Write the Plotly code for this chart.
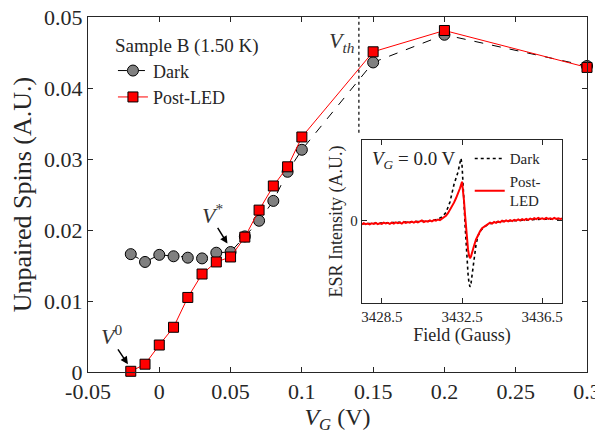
import plotly.graph_objects as go

# ---- main data ----
vg = [-0.02, -0.01, 0.0, 0.01, 0.02, 0.03, 0.04, 0.05, 0.06, 0.07, 0.08, 0.09, 0.10, 0.15, 0.20, 0.30]
dark = [0.0166, 0.0155, 0.0165, 0.0163, 0.0161, 0.0160, 0.0168, 0.0169, 0.0191, 0.0213, 0.0241, 0.0282, 0.0313, 0.0436, 0.0475, 0.0431]
post_led = [0.0001, 0.0011, 0.0038, 0.0063, 0.0105, 0.0138, 0.0155, 0.0162, 0.0190, 0.0228, 0.0262, 0.0289, 0.0331, 0.0451, 0.0481, 0.0429]
V_TH = 0.14

x_tickvals = [-0.05, 0, 0.05, 0.1, 0.15, 0.2, 0.25, 0.3]
x_ticktext = ["-0.05", "0", "0.05", "0.1", "0.15", "0.2", "0.25", "0.3"]
y_tickvals = [0, 0.01, 0.02, 0.03, 0.04, 0.05]
y_ticktext = ["0", "0.01", "0.02", "0.03", "0.04", "0.05"]

# ---- inset ESR spectra (V_G = 0.0 V) ----
field_led = [3427.5, 3427.6, 3427.7, 3427.8, 3427.9, 3428.0, 3428.1, 3428.2, 3428.3, 3428.4,
             3428.5, 3428.6, 3428.7, 3428.8, 3428.9, 3429.0, 3429.1, 3429.2, 3429.3, 3429.4,
             3429.5, 3429.6, 3429.7, 3429.8, 3429.9, 3430.0, 3430.1, 3430.2, 3430.3, 3430.4,
             3430.5, 3430.6, 3430.7, 3430.8, 3430.9, 3431.0, 3431.1, 3431.2, 3431.3, 3431.4,
             3431.5, 3431.6, 3431.7, 3431.8, 3431.9, 3432.0, 3432.1, 3432.2, 3432.3, 3432.4,
             3432.5, 3432.55, 3432.6, 3432.65, 3432.7, 3432.75, 3432.8, 3432.85, 3432.9, 3432.95,
             3433.0, 3433.1, 3433.2, 3433.3, 3433.4, 3433.5, 3433.6, 3433.7, 3433.8, 3433.9,
             3434.0, 3434.1, 3434.2, 3434.3, 3434.4, 3434.5, 3434.6, 3434.7, 3434.8, 3434.9,
             3435.0, 3435.1, 3435.2, 3435.3, 3435.4, 3435.5, 3435.6, 3435.7, 3435.8, 3435.9,
             3436.0, 3436.1, 3436.2, 3436.3, 3436.4, 3436.5, 3436.6, 3436.7, 3436.8, 3436.9,
             3437.0, 3437.1, 3437.2, 3437.3, 3437.4, 3437.5]
esr_led = [-0.06, -0.04, -0.055, -0.045, -0.06, -0.04, -0.05, -0.035, -0.055, -0.04,
           -0.05, -0.03, -0.045, -0.035, -0.05, -0.03, -0.045, -0.025, -0.04, -0.03,
           -0.045, -0.02, -0.035, -0.02, -0.03, -0.015, -0.03, -0.01, -0.025, -0.015,
           0.005, -0.02, -0.005, -0.015, 0.005, -0.01, 0.01, 0.0, 0.02, 0.01,
           0.03, 0.05, 0.08, 0.12, 0.17, 0.23, 0.29, 0.36, 0.43, 0.52,
           0.625, 0.50, 0.32, 0.10, -0.12, -0.32, -0.46, -0.56, -0.60, -0.57,
           -0.50, -0.40, -0.30, -0.22, -0.17, -0.12, -0.10, -0.07, -0.06, -0.03,
           -0.045, -0.02, -0.035, -0.01, -0.025, 0.0, -0.015, 0.005, -0.01, 0.01,
           -0.005, 0.015, 0.0, 0.02, 0.005, 0.025, 0.01, 0.03, 0.015, 0.035,
           0.02, 0.04, 0.025, 0.045, 0.03, 0.04, 0.025, 0.045, 0.03, 0.04,
           0.025, 0.045, 0.03, 0.04, 0.03, 0.035]
field_dark = [3427.5, 3428.0, 3428.5, 3429.0, 3429.5, 3430.0, 3430.5, 3431.0, 3431.25, 3431.5,
              3431.7, 3431.9, 3432.0, 3432.1, 3432.2, 3432.3, 3432.4, 3432.45, 3432.5, 3432.55,
              3432.6, 3432.65, 3432.7, 3432.75, 3432.8, 3432.85, 3432.9, 3432.95, 3433.0, 3433.1,
              3433.2, 3433.3, 3433.45, 3433.6, 3433.8, 3434.1, 3434.5, 3435.0, 3435.5, 3436.0,
              3436.5, 3437.0, 3437.5]
esr_dark = [-0.05, -0.045, -0.04, -0.035, -0.03, -0.02, -0.01, 0.0, 0.02, 0.06,
            0.13, 0.30, 0.45, 0.58, 0.68, 0.78, 0.93, 1.0, 0.90, 0.65,
            0.30, -0.05, -0.35, -0.62, -0.85, -1.0, -1.06, -1.0, -0.87, -0.60,
            -0.38, -0.24, -0.15, -0.10, -0.06, -0.03, -0.01, 0.0, 0.01, 0.02,
            0.025, 0.025, 0.03]
inset_xticks = [3428.5, 3432.5, 3436.5]
inset_xticktext = ["3428.5", "3432.5", "3436.5"]

FONT = "Liberation Serif"
AX = "#262626"

fig = go.Figure()
fig.add_trace(go.Scatter(x=vg, y=dark, name="Dark", mode="lines+markers",
                         line=dict(color="black", width=1, dash="dash"),
                         marker=dict(symbol="circle", size=11, color="#808080",
                                     line=dict(color="black", width=1)),
                         cliponaxis=False, legend="legend"))
fig.add_trace(go.Scatter(x=vg, y=post_led, name="Post-LED", mode="lines+markers",
                         line=dict(color="red", width=1),
                         marker=dict(symbol="square", size=10, color="red",
                                     line=dict(color="black", width=1)),
                         cliponaxis=False, legend="legend"))

fig.add_trace(go.Scatter(x=field_dark, y=esr_dark, name="Dark", mode="lines",
                         line=dict(color="black", width=1.6, dash="dot"),
                         xaxis="x2", yaxis="y2", legend="legend2"))
fig.add_trace(go.Scatter(x=field_led, y=esr_led, name="Post-<br>LED", mode="lines",
                         line=dict(color="red", width=2),
                         xaxis="x2", yaxis="y2", legend="legend2"))

fig.add_shape(type="line", x0=V_TH, x1=V_TH, y0=0.0337, y1=0.05, xref="x", yref="y",
              line=dict(color="black", width=1.2, dash="dot"))

ann_font = dict(family=FONT, size=22, color="#333333")
fig.add_annotation(x=0.128, y=0.0465, text="<i>V</i><sub><i>th</i></sub>", showarrow=False,
                   font=ann_font, xref="x", yref="y")
fig.add_annotation(x=0.037, y=0.0223, text="<i>V</i><sup>*</sup>", showarrow=False,
                   font=ann_font, xref="x", yref="y")
fig.add_annotation(x=-0.0332, y=0.0052, text="<i>V</i><sup>0</sup>", showarrow=False,
                   font=ann_font, xref="x", yref="y")
fig.add_annotation(x=0.0478, y=0.0181, ax=0.0403, ay=0.0205, xref="x", yref="y",
                   axref="x", ayref="y", text="", showarrow=True, arrowhead=2,
                   arrowsize=1, arrowwidth=1.5, arrowcolor="black")
fig.add_annotation(x=-0.022, y=0.0011, ax=-0.0297, ay=0.0034, xref="x", yref="y",
                   axref="x", ayref="y", text="", showarrow=True, arrowhead=2,
                   arrowsize=1, arrowwidth=1.5, arrowcolor="black")
fig.add_annotation(x=3427.9, y=0.98, text="<i>V</i><sub><i>G</i></sub> = 0.0 V", showarrow=False,
                   xanchor="left", font=dict(family=FONT, size=19, color="#222222"),
                   xref="x2", yref="y2")

axis_common = dict(showline=True, linecolor=AX, linewidth=1, mirror="ticks", ticks="inside",
                   ticklen=5, tickcolor=AX, showgrid=False, zeroline=False, automargin=False,
                   ticklabeloverflow="allow")

# the page adds an 8px body margin, so the figure is sized to fit the window with it
fig.update_layout(
    width=595, height=429,
    margin=dict(l=80, r=16, t=9, b=65),
    paper_bgcolor="white", plot_bgcolor="white",
    font=dict(family=FONT, color="#262626"),
    xaxis=dict(range=[-0.05, 0.3], tickvals=x_tickvals, ticktext=x_ticktext,
               tickfont=dict(size=22), title=dict(text="<i>V</i><sub><i>G</i></sub> (V)",
               font=dict(size=24), standoff=4), **axis_common),
    yaxis=dict(range=[0, 0.05], tickvals=y_tickvals, ticktext=y_ticktext,
               tickfont=dict(size=22), title=dict(text="Unpaired Spins (A.U.)",
               font=dict(size=26), standoff=8), **axis_common),
    xaxis2=dict(domain=[0.5485, 0.9505], anchor="y2", range=[3427.5, 3437.5],
                tickvals=inset_xticks, ticktext=inset_xticktext, tickfont=dict(size=15),
                title=dict(text="Field (Gauss)", font=dict(size=18), standoff=4),
                **axis_common),
    yaxis2=dict(domain=[0.195, 0.6535], anchor="x2", range=[-1.314, 1.293],
                tickvals=[0], ticktext=["0"], tickfont=dict(size=15),
                title=dict(text="ESR Intensity (A.U.)", font=dict(size=18), standoff=2),
                **axis_common),
    legend=dict(x=0.05, y=0.97, xanchor="left", yanchor="top",
                bgcolor="rgba(0,0,0,0)", font=dict(size=18, color="#262626"),
                title=dict(text="Sample B (1.50 K)", font=dict(size=19)),
                tracegroupgap=0),
    legend2=dict(x=0.765, y=0.647, xanchor="left", yanchor="top",
                 bgcolor="rgba(0,0,0,0)", font=dict(size=15, color="#262626")),
    showlegend=True,
)

fig.write_html("out.html")
